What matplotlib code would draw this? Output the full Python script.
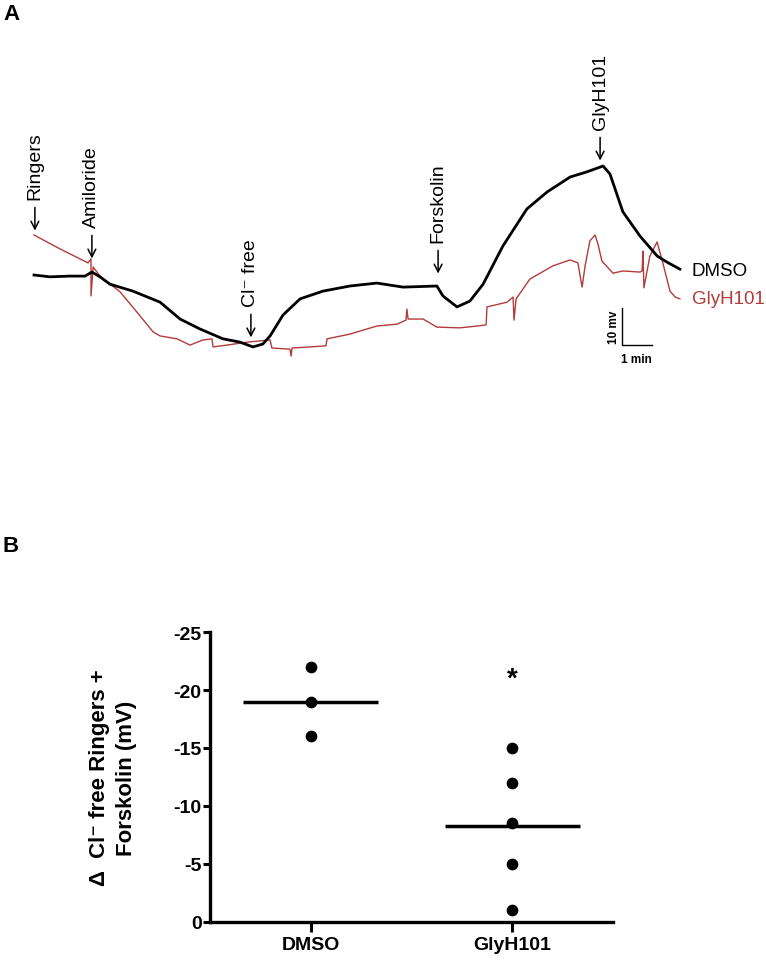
import matplotlib
matplotlib.use('Agg')
import matplotlib.pyplot as plt
import numpy as np

plt.rcParams['font.family'] = ['Liberation Sans', 'DejaVu Sans']
plt.rcParams['axes.unicode_minus'] = False

# ---- panel A: transepithelial potential traces (time in min, mV) ----
dmso_t = [0, 0.53, 1.2, 1.7, 1.93, 2.2, 2.53, 3.3, 4.2, 4.87, 5.53, 6.3, 6.87, 7.3, 7.63,
          7.87, 8.3, 8.87, 9.63, 10.53, 11.43, 12.3, 13.43, 13.63, 14.1, 14.53, 14.97,
          15.63, 16.43, 17.1, 17.87, 18.43, 18.97, 19.2, 19.63, 20.2, 20.77, 21.1, 21.53]
dmso_mv = [0, -0.5, -0.3, -0.3, 0.8, -0.5, -2.5, -4.4, -7.4, -12.0, -14.7, -17.4, -18.3, -19.6,
           -18.8, -16.6, -10.9, -6.5, -4.4, -3.0, -2.2, -3.3, -3.0, -5.7, -8.7, -7.1, -2.5,
           7.9, 18.0, 22.6, 26.7, 28.1, 29.7, 27.5, 17.2, 10.6, 5.2, 3.5, 1.6]

gly_t = [0, 0.87, 1.8, 1.9, 1.9, 1.97, 2.2, 2.87, 3.43, 3.97, 4.2, 4.77, 5.2, 5.63, 5.93,
         5.97, 6.43, 7.1, 7.87, 7.93, 8.53, 8.57, 8.6, 9.2, 9.73, 9.77, 10.53, 11.43, 12.1,
         12.4, 12.43, 12.47, 12.97, 13.43, 14.2, 14.77, 15.07, 15.1, 15.77, 15.97, 16.0,
         16.07, 16.53, 17.3, 17.87, 18.13, 18.27, 18.37, 18.53, 18.7, 18.8, 18.93, 19.3,
         19.63, 20.2, 20.27, 20.3, 20.33, 20.53, 20.77, 20.97, 21.2, 21.37, 21.53]
gly_mv = [10.9, 7.1, 3.3, 4.4, -5.7, 2.2, -0.3, -4.6, -10.1, -15.5, -16.6, -17.4, -19.1, -17.7,
          -17.4, -19.6, -19.1, -18.3, -17.7, -19.9, -20.2, -22.1, -19.9, -19.6, -19.3, -17.4,
          -16.1, -13.9, -13.4, -12.3, -9.3, -12.0, -12.0, -14.2, -14.4, -13.9, -13.6, -8.7,
          -7.4, -6.0, -12.3, -6.5, -1.1, 2.5, 4.1, 3.3, -3.3, 2.5, 9.3, 10.9, 8.4, 3.8, 0.5,
          1.1, 0.8, 1.1, 6.5, -3.5, 5.2, 9.0, 3.0, -4.4, -6.0, -6.5]

events = ['Ringers', 'Amiloride', 'Cl\u207b free', 'Forskolin', 'GlyH101']
event_t = [0.03, 1.93, 7.23, 13.47, 18.87]
event_mv = [20.7, 13.1, -8.4, 9.0, 39.8]   # bottom of label / top of arrow

# ---- panel B: delta potential ----
groups = ['DMSO', 'GlyH101']
dmso_vals = [-22, -19, -16]
gly_vals = [-15, -12, -8.5, -5, -1]

red = '#b23b3b'

fig = plt.figure(figsize=(7.66, 9.62), dpi=100)

# panel A
axA = fig.add_axes([0, 1 - 400 / 962, 1, 400 / 962])
axA.axis('off')
axA.set_xlim(-34 / 30, (766 - 34) / 30)
axA.set_ylim((276 - 400) / 3.67, 276 / 3.67)
axA.plot(gly_t, gly_mv, color=red, lw=1.0)
axA.plot(dmso_t, dmso_mv, color='black', lw=2.0)

for name, t, v in zip(events, event_t, event_mv):
    axA.text(t, v, name, rotation=90, ha='center', va='bottom', fontsize=14)
    axA.annotate('', xy=(t, v - 8.6), xytext=(t, v - 2.3),
                 arrowprops=dict(arrowstyle='->,head_length=0.55,head_width=0.28',
                                 lw=1.1, color='black', shrinkA=0, shrinkB=0))

axA.text(21.93, 1.1, 'DMSO', fontsize=13.5, va='center', ha='left')
axA.text(21.93, -6.5, 'GlyH101', fontsize=13.5, va='center', ha='left', color=red)

# scale bar: 10 mV, 1 min
axA.plot([19.59, 19.59, 20.59], [-9.0, -19.0, -19.0], color='black', lw=1.0)
axA.text(19.33, -14.0, '10 mv', rotation=90, ha='center', va='center',
         fontsize=8.5, fontweight='bold')
axA.text(20.09, -21.3, '1 min', ha='center', va='top', fontsize=8.5, fontweight='bold')

fig.text(3 / 766, 1 - 15 / 962, 'A', fontsize=16, fontweight='bold', va='center')
fig.text(3 / 766, 1 - 547 / 962, 'B', fontsize=16, fontweight='bold', va='center')

# panel B
axB = fig.add_axes([210 / 766, 39 / 962, 403 / 766, 290 / 962])
for i, vals in enumerate([dmso_vals, gly_vals]):
    x = i + 1
    axB.scatter([x] * len(vals), vals, s=55, color='black', zorder=3)
    m = np.mean(vals)
    axB.plot([x - 0.335, x + 0.335], [m, m], color='black', lw=2.5, solid_capstyle='butt')
axB.text(2, -21, '*', ha='center', va='center', fontsize=20, fontweight='bold')

axB.set_xlim(0.5, 2.5)
axB.set_ylim(0, -25)
axB.set_yticks([0, -5, -10, -15, -20, -25])
axB.set_yticklabels(['0', '-5', '-10', '-15', '-20', '-25'])
axB.set_xticks([1, 2])
axB.set_xticklabels(groups)
for lab in axB.get_xticklabels():
    lab.set_fontsize(14)
    lab.set_fontweight('bold')
for lab in axB.get_yticklabels():
    lab.set_fontsize(14)
    lab.set_fontweight('bold')
axB.tick_params(axis='y', width=2.2, length=5, pad=1)
axB.tick_params(axis='x', width=2.2, length=7, pad=3)
for s in ['top', 'right']:
    axB.spines[s].set_visible(False)
for s in ['left', 'bottom']:
    axB.spines[s].set_linewidth(2.4)
axB.set_ylabel('\u0394  Cl\u207b free Ringers +\nForskolin (mV)', fontsize=16,
               fontweight='bold', labelpad=26, linespacing=1.4)

fig.savefig('out.png', dpi=100)
